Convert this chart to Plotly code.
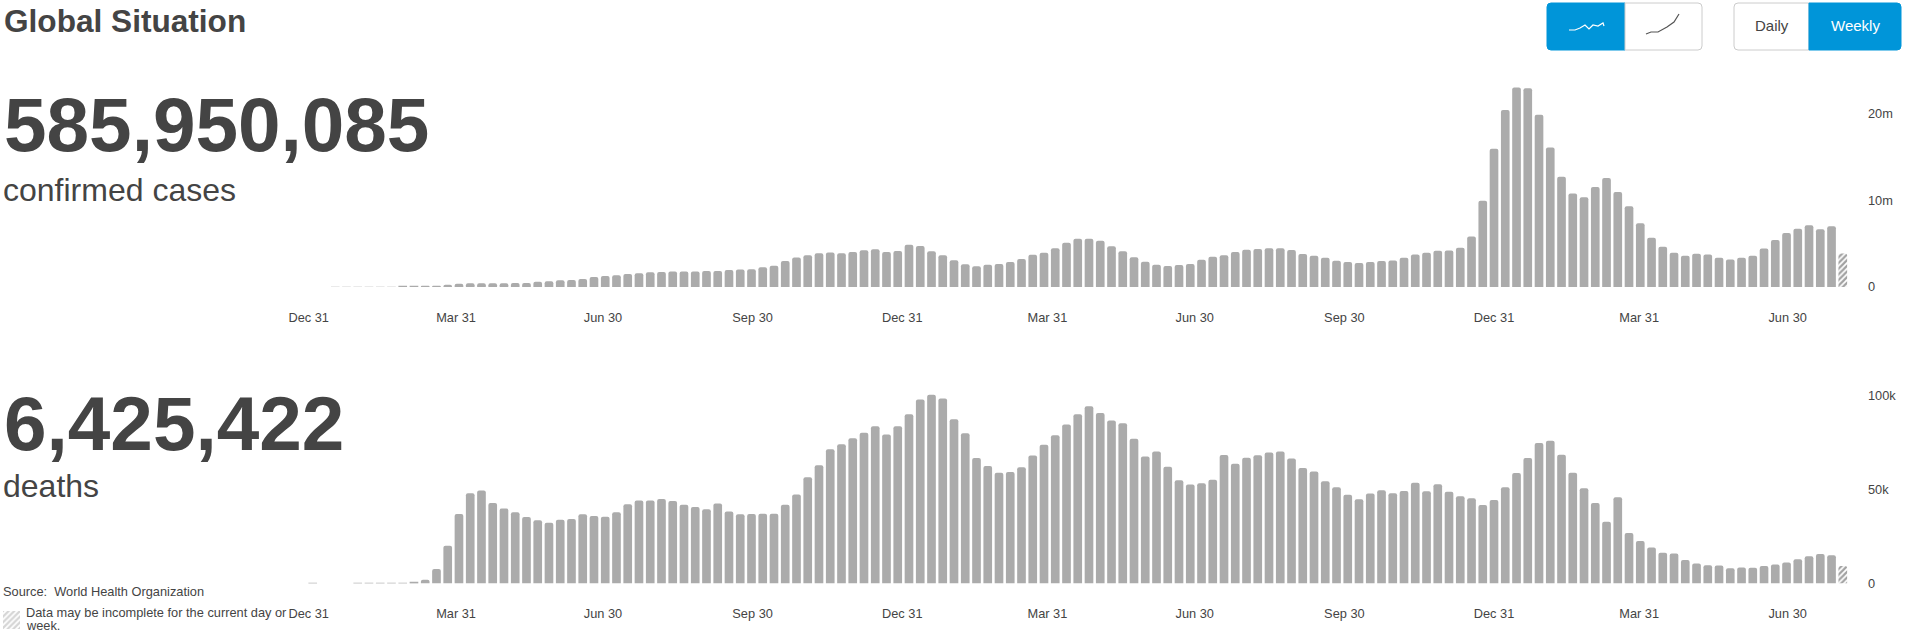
import plotly.graph_objects as go

W = 1905
H = 634

GRAY = "#ababab"
TEXT = "#444444"
BLUE = "#0095d9"
FONT = "Liberation Sans"

# weekly values, first bar is the week of 30 Dec 2019, last one is incomplete
cases_m = [
    0.00, 0.00, 0.01, 0.01, 0.02, 0.01, 0.01, 0.01, 0.03, 0.05,
    0.12, 0.15, 0.27, 0.39, 0.42, 0.42, 0.42, 0.42, 0.46, 0.46,
    0.62, 0.66, 0.77, 0.81, 0.93, 1.16, 1.27, 1.35, 1.51, 1.58,
    1.70, 1.74, 1.78, 1.78, 1.78, 1.85, 1.85, 1.97, 2.01, 2.05,
    2.28, 2.47, 3.01, 3.40, 3.67, 3.90, 3.98, 3.90, 4.05, 4.25, 4.36,
    4.05, 4.16, 4.89, 4.74, 4.12, 3.66, 3.08, 2.62, 2.39, 2.58,
    2.66, 2.89, 3.24, 3.74, 3.97, 4.47, 5.13, 5.59, 5.59, 5.36,
    4.70, 4.12, 3.43, 2.93, 2.58, 2.43, 2.54, 2.66, 3.16, 3.51,
    3.66, 4.05, 4.32, 4.39, 4.47, 4.47, 4.28, 3.82, 3.62, 3.39,
    3.04, 2.89, 2.77, 2.89, 3.01,
    3.06, 3.37, 3.76, 3.95, 4.19, 4.22, 4.53, 5.85, 9.96, 15.97,
    20.47, 23.06, 22.98, 19.92, 16.12, 12.75, 10.81, 10.39, 11.55, 12.60,
    10.97, 9.34, 7.36, 5.70, 4.65, 3.95, 3.60, 3.84, 3.76, 3.37,
    3.18, 3.37, 3.60, 4.46, 5.43, 6.24, 6.74, 7.13, 6.67, 7.02, 3.88,
]

deaths_k = [
    0.05, 0.0, 0.0, 0.0, 0.1, 0.2, 0.25, 0.2, 0.2,
    0.5, 2.1, 7.8, 20.1, 37.0, 48.1, 49.5, 42.9, 39.9, 37.9,
    35.4, 33.7, 32.4, 34.0, 34.4, 36.9, 36.0, 35.6, 37.9, 42.2,
    44.2, 44.2, 45.0, 44.0, 42.0, 40.8, 39.5, 42.6, 38.3, 36.9,
    37.0, 37.2, 37.2, 42.0, 47.4, 56.6, 62.9, 71.4, 74.1, 77.3, 80.3, 83.7,
    79.3, 83.7, 90.1, 97.9, 100.5, 98.4, 87.4, 80.0, 66.8, 62.6,
    58.9, 59.4, 61.9, 68.1, 73.9, 78.9, 84.6, 90.1, 94.3, 90.8,
    86.7, 85.3, 77.1, 67.6, 70.2, 62.1, 55.0, 52.7, 53.4, 55.3,
    68.4, 63.8, 67.0, 68.3, 69.7, 70.2, 66.5, 61.5, 59.6, 54.4,
    51.2, 47.2, 44.9, 47.9, 49.6,
    48.1, 49.3, 53.6, 49.1, 52.9, 48.8, 46.5, 45.4, 41.8, 44.5,
    51.3, 58.8, 66.8, 74.8, 76.0, 68.6, 58.9, 50.7, 42.9, 32.9,
    45.9, 26.9, 22.6, 19.2, 16.4, 16.0, 12.5, 10.7, 9.8, 9.6,
    8.2, 8.5, 8.4, 9.4, 10.1, 11.2, 13.0, 14.6, 15.7, 15.1, 9.4,
]

weeks = list(range(len(cases_m)))

# labels sit a little off the real dates in the original, so they are in week units
tick_weeks = [-0.36, 12.74, 25.8, 39.1, 52.4, 65.3, 78.4, 91.7, 105.0, 117.9, 131.1]
tick_labels = ["Dec 31", "Mar 31", "Jun 30", "Sep 30", "Dec 31", "Mar 31",
               "Jun 30", "Sep 30", "Dec 31", "Mar 31", "Jun 30"]

cases_ticks = [0, 10, 20]
cases_tick_labels = ["0", "10m", "20m"]
deaths_ticks = [0, 50, 100]
deaths_tick_labels = ["0", "50k", "100k"]


def px(x):
    return x / W


def py(y):
    return 1 - y / H


def label(x, y, text, size, color=TEXT, bold=False, xanchor="left"):
    if bold:
        text = "<b>" + text + "</b>"
    return dict(
        x=px(x), y=py(y), xref="paper", yref="paper", text=text, showarrow=False,
        xanchor=xanchor, yanchor="middle", xshift=0, borderpad=0, borderwidth=0,
        font=dict(family=FONT, size=size, color=color),
    )


def button_path(x0, x1, y0, y1, left=False, right=False, r=4):
    # rounded only on the outer side of the button group
    rl = r if left else 0
    rr = r if right else 0
    return (
        f"M {px(x0 + rl)} {py(y0)} L {px(x1 - rr)} {py(y0)} "
        f"Q {px(x1)} {py(y0)} {px(x1)} {py(y0 + rr)} L {px(x1)} {py(y1 - rr)} "
        f"Q {px(x1)} {py(y1)} {px(x1 - rr)} {py(y1)} L {px(x0 + rl)} {py(y1)} "
        f"Q {px(x0)} {py(y1)} {px(x0)} {py(y1 - rl)} L {px(x0)} {py(y0 + rl)} "
        f"Q {px(x0)} {py(y0)} {px(x0 + rl)} {py(y0)} Z"
    )


def button(x0, x1, y0, y1, fill, line, left=False, right=False):
    return dict(
        type="path", xref="paper", yref="paper",
        path=button_path(x0, x1, y0, y1, left, right),
        fillcolor=fill, line=dict(color=line, width=1),
    )


def icon(points, color):
    path = "M " + " L ".join(f"{px(x)} {py(y)}" for x, y in points)
    return dict(type="path", xref="paper", yref="paper", path=path,
                line=dict(color=color, width=1.2))


def bars(values, xaxis, yaxis):
    last = len(values) - 1
    return go.Bar(
        x=weeks, y=values, xaxis=xaxis, yaxis=yaxis, width=0.77, showlegend=False,
        marker=dict(
            color=[GRAY if i < last else "white" for i in weeks],
            cornerradius=2, line=dict(width=0),
            pattern=dict(
                shape=["" if i < last else "/" for i in weeks],
                fgcolor=GRAY, bgcolor="white", size=4, solidity=0.55,
            ),
        ),
    )


fig = go.Figure()
fig.add_trace(bars(cases_m, "x", "y"))
fig.add_trace(bars(deaths_k, "x2", "y2"))
# hatched legend swatch
fig.add_trace(go.Bar(
    x=[0], y=[1], xaxis="x3", yaxis="y3", width=1, showlegend=False,
    marker=dict(color="white", line=dict(width=0),
                pattern=dict(shape="/", fgcolor=GRAY, bgcolor="white", size=4, solidity=0.55)),
))

x_range = [-27.796, 141.53]
x_style = dict(
    range=x_range, domain=[0, 1], showgrid=False, zeroline=False, showline=False,
    ticks="", tickmode="array", tickvals=tick_weeks, ticktext=tick_labels, tickangle=0,
    ticklabelstandoff=21, tickfont=dict(family=FONT, size=12.8, color=TEXT),
)
y_style = dict(
    showgrid=False, zeroline=False, showline=False, ticks="", side="right",
    anchor="free", position=px(1867), tickmode="array",
    tickfont=dict(family=FONT, size=12.8, color=TEXT),
)

fig.update_layout(
    width=W, height=H, margin=dict(l=0, r=0, t=0, b=0, autoexpand=False),
    paper_bgcolor="white", plot_bgcolor="white", barmode="overlay", hovermode=False,
    font=dict(family=FONT, color=TEXT),
    xaxis=dict(x_style, anchor="y"),
    xaxis2=dict(x_style, anchor="y2"),
    yaxis=dict(y_style, domain=[py(287), py(70.75)], range=[0, 25],
               tickvals=cases_ticks, ticktext=cases_tick_labels),
    yaxis2=dict(y_style, domain=[py(583.6), py(376.8)], range=[0, 110],
                tickvals=deaths_ticks, ticktext=deaths_tick_labels),
    xaxis3=dict(domain=[px(3), px(20)], range=[-0.5, 0.5], visible=False),
    yaxis3=dict(domain=[py(629), py(611)], range=[0, 1], visible=False),
    shapes=[
        button(1547, 1625, 3, 50, BLUE, BLUE, left=True),
        button(1625, 1702, 3, 50, "white", "#cccccc", right=True),
        button(1734, 1809, 3, 50, "white", "#cccccc", left=True),
        button(1809, 1901, 3, 50, BLUE, BLUE, right=True),
        icon([(1569, 30), (1575, 30), (1580, 28), (1585, 25), (1589, 29),
              (1593, 25), (1598, 26), (1603, 23), (1604, 26)], "white"),
        icon([(1646, 34), (1651, 32), (1658, 32), (1667, 27), (1674, 22), (1679, 14)], "#555555"),
    ],
    annotations=[
        label(4, 21, "Global Situation", 31.6, bold=True),
        label(4, 124, "585,950,085", 76.5, bold=True),
        label(3, 190, "confirmed cases", 32),
        label(4, 423, "6,425,422", 76.5, bold=True),
        label(3, 486, "deaths", 32),
        label(3, 591, "Source:  World Health Organization", 12.8),
        label(26, 612, "Data may be incomplete for the current day or", 12.8),
        label(26, 625, "week.", 12.8),
        label(1772, 26, "Daily", 15, xanchor="center"),
        label(1855, 26, "Weekly", 15, color="white", xanchor="center"),
    ],
)

fig.write_html("out.html", config=dict(displayModeBar=False),
               post_script="document.body.style.margin='0';")
